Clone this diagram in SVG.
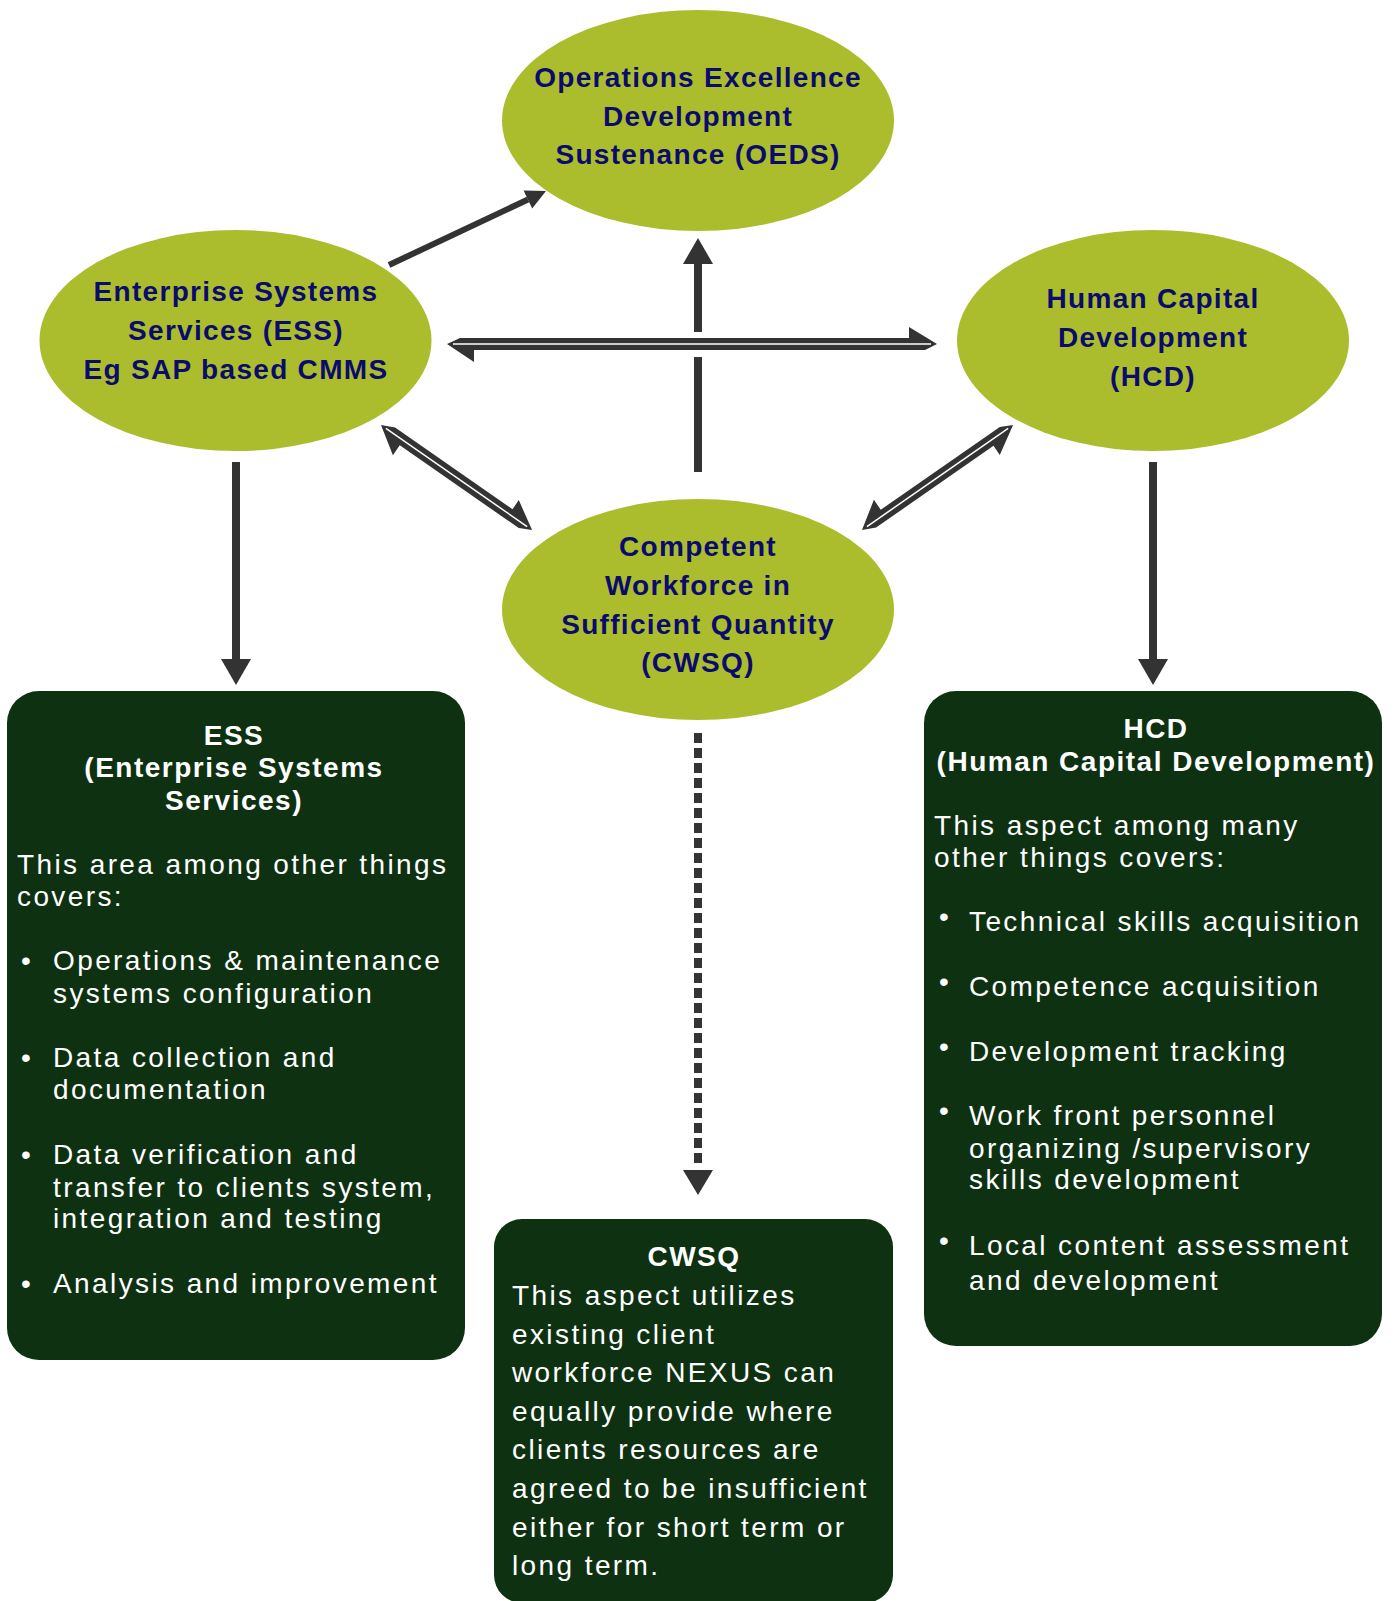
<svg xmlns="http://www.w3.org/2000/svg" width="1394" height="1601" viewBox="0 0 1394 1601">
<style>
.ell{fill:#abbd2d}
.et{font-family:"Liberation Sans",Arial,sans-serif;font-weight:bold;font-size:28px;fill:#0b0b6e;text-anchor:middle;letter-spacing:1.3px}
.box{fill:#0e3112}
.hd{font-family:"Liberation Sans",Arial,sans-serif;font-weight:bold;font-size:28px;fill:#ffffff;text-anchor:middle;letter-spacing:1.5px}
.bt{font-family:"Liberation Sans",Arial,sans-serif;font-size:28px;fill:#ffffff;letter-spacing:2.4px}
.ln{stroke:#333333;fill:none}
.ah{fill:#333333}
.sep{stroke:#ffffff;stroke-width:1.5;fill:none}
</style>
<defs>
<g id="dbl184">
<polygon class="ah" points="0,0 13,-6 156,-6 156,-17 184,0 172,6 27,6 27,18"/>
<line class="sep" x1="6" y1="0" x2="178" y2="0"/>
</g>
</defs>
<rect width="1394" height="1601" fill="#ffffff"/>

<g id="connectors">
<!-- ESS -> OEDS -->
<line class="ln" stroke-width="6" x1="389" y1="265" x2="528" y2="199.5"/>
<polygon class="ah" points="546,191 532.2,208.5 523.6,190.5"/>
<!-- CWSQ -> OEDS vertical (broken at horizontal) -->
<line class="ln" stroke-width="8" x1="698" y1="472" x2="698" y2="357"/>
<line class="ln" stroke-width="8" x1="698" y1="332" x2="698" y2="262"/>
<polygon class="ah" points="698,238 713,264 683,264"/>
<!-- ESS <-> HCD horizontal double harpoon -->
<polygon class="ah" points="447,344 460,338 909,338 909,327 937,344 925,350 474,350 474,362"/>
<line class="sep" x1="453" y1="344" x2="931" y2="344"/>
<!-- ESS <-> CWSQ -->
<use href="#dbl184" transform="translate(381,425) rotate(34.81)"/>
<!-- HCD <-> CWSQ -->
<use href="#dbl184" transform="translate(862,530) rotate(-34.81) scale(1,-1)"/>
<!-- ESS -> ESS box -->
<line class="ln" stroke-width="8" x1="236" y1="462" x2="236" y2="661"/>
<polygon class="ah" points="221,659 251,659 236,685"/>
<!-- HCD -> HCD box -->
<line class="ln" stroke-width="8" x1="1153" y1="462" x2="1153" y2="661"/>
<polygon class="ah" points="1138,659 1168,659 1153,685"/>
<!-- CWSQ -> CWSQ box dotted -->
<line class="ln" stroke-width="8" stroke-dasharray="10 5" x1="698" y1="733" x2="698" y2="1163"/>
<polygon class="ah" points="683,1170 713,1170 698,1195"/>
</g>

<g id="oeds">
<ellipse class="ell" cx="698" cy="120.5" rx="196" ry="110.5"/>
<text class="et" x="698" y="87">Operations Excellence</text>
<text class="et" x="698" y="126">Development</text>
<text class="et" x="698" y="164">Sustenance (OEDS)</text>
</g>

<g id="ess">
<ellipse class="ell" cx="235.5" cy="340.5" rx="196" ry="110.5"/>
<text class="et" x="236" y="301">Enterprise Systems</text>
<text class="et" x="236" y="340">Services (ESS)</text>
<text class="et" x="236" y="379">Eg SAP based CMMS</text>
</g>

<g id="hcd">
<ellipse class="ell" cx="1153" cy="340.5" rx="196" ry="110.5"/>
<text class="et" x="1153" y="308">Human Capital</text>
<text class="et" x="1153" y="347">Development</text>
<text class="et" x="1153" y="386">(HCD)</text>
</g>

<g id="cwsq">
<ellipse class="ell" cx="698" cy="609.5" rx="196" ry="110.5"/>
<text class="et" x="698" y="556">Competent</text>
<text class="et" x="698" y="595">Workforce in</text>
<text class="et" x="698" y="634">Sufficient Quantity</text>
<text class="et" x="698" y="672">(CWSQ)</text>
</g>

<g id="ess-box">
<rect class="box" x="7" y="691" width="458" height="669" rx="32" ry="32"/>
<text class="hd" x="234" y="745">ESS</text>
<text class="hd" x="234" y="776.5">(Enterprise Systems</text>
<text class="hd" x="234" y="809.5">Services)</text>
<text class="bt" x="17" y="873.5">This area among other things</text>
<text class="bt" x="17" y="906">covers:</text>
<text class="bt" x="21" y="969.5">•</text>
<text class="bt" x="53" y="969.5">Operations &amp; maintenance</text>
<text class="bt" x="53" y="1003">systems configuration</text>
<text class="bt" x="21" y="1067">•</text>
<text class="bt" x="53" y="1067">Data collection and</text>
<text class="bt" x="53" y="1099">documentation</text>
<text class="bt" x="21" y="1164">•</text>
<text class="bt" x="53" y="1164">Data verification and</text>
<text class="bt" x="53" y="1197">transfer to clients system,</text>
<text class="bt" x="53" y="1228">integration and testing</text>
<text class="bt" x="21" y="1293">•</text>
<text class="bt" x="53" y="1293">Analysis and improvement</text>
</g>

<g id="hcd-box">
<rect class="box" x="924" y="691" width="458" height="655" rx="32" ry="32"/>
<text class="hd" x="1156" y="738">HCD</text>
<text class="hd" x="1156" y="770.5">(Human Capital Development)</text>
<text class="bt" x="934" y="834.5">This aspect among many</text>
<text class="bt" x="934" y="867">other things covers:</text>
<text class="bt" x="939" y="926">•</text>
<text class="bt" x="969" y="931">Technical skills acquisition</text>
<text class="bt" x="939" y="991">•</text>
<text class="bt" x="969" y="996">Competence acquisition</text>
<text class="bt" x="939" y="1056">•</text>
<text class="bt" x="969" y="1061">Development tracking</text>
<text class="bt" x="939" y="1120">•</text>
<text class="bt" x="969" y="1125">Work front personnel</text>
<text class="bt" x="969" y="1157.5">organizing /supervisory</text>
<text class="bt" x="969" y="1189">skills development</text>
<text class="bt" x="939" y="1250">•</text>
<text class="bt" x="969" y="1255">Local content assessment</text>
<text class="bt" x="969" y="1290">and development</text>
</g>

<g id="cwsq-box">
<rect class="box" x="494" y="1219" width="399" height="384" rx="28" ry="28"/>
<text class="hd" x="694" y="1266">CWSQ</text>
<text class="bt" x="512" y="1305">This aspect utilizes</text>
<text class="bt" x="512" y="1343.5">existing client</text>
<text class="bt" x="512" y="1382">workforce NEXUS can</text>
<text class="bt" x="512" y="1420.5">equally provide where</text>
<text class="bt" x="512" y="1459">clients resources are</text>
<text class="bt" x="512" y="1498">agreed to be insufficient</text>
<text class="bt" x="512" y="1536.5">either for short term or</text>
<text class="bt" x="512" y="1575">long term.</text>
</g>
</svg>
